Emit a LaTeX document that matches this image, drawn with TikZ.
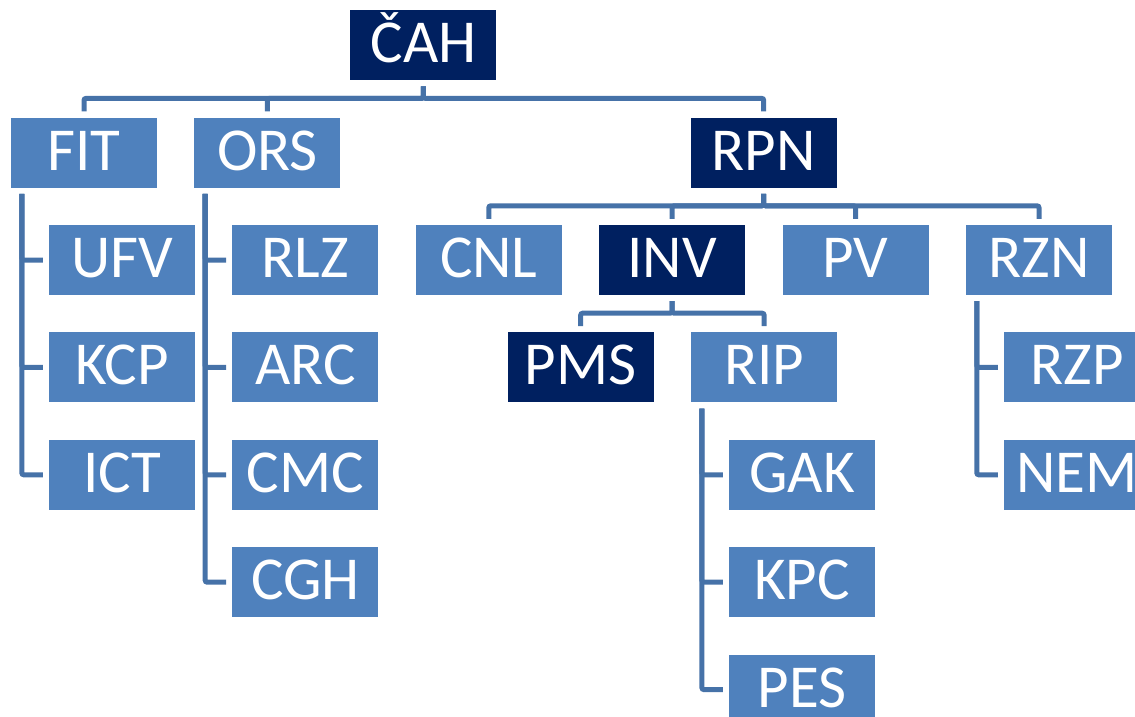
\documentclass[tikz,border=0pt]{standalone}
\usepackage{fontspec}
\setmainfont{Carlito}
\usepackage{xcolor}
\usetikzlibrary{positioning}

\definecolor{boxblue}{HTML}{4F81BD}
\definecolor{boxnavy}{HTML}{002060}
\definecolor{lineblue}{HTML}{4672A8}

\begin{document}
\begin{tikzpicture}[
    x=1pt, y=1pt,
    node distance=37pt and 37pt,
    box/.style={rectangle, fill=boxblue, text=white, minimum width=146pt, minimum height=70pt, inner sep=0pt, text height=35pt, text depth=0pt, font=\fontsize{61}{64}\selectfont},
    darkbox/.style={box, fill=boxnavy},
    link/.style={draw=lineblue, line width=5pt, rounded corners=2pt, shorten <=6pt, shorten >=6pt}
]
    \useasboundingbox (0,0) rectangle (1135,-717);

    % Second row of units
    \node[box] (ufv) at (122,-260) {UFV};
    \node[box, right=of ufv] (rlz) {RLZ};
    \node[box, right=of rlz] (cnl) {CNL};
    \node[darkbox, right=of cnl] (inv) {INV};
    \node[box, right=of inv] (pv) {PV};
    \node[box, right=of pv] (rzn) {RZN};

    % Faculty level
    \node[box, above=of ufv, xshift=-38pt] (fit) {FIT};
    \node[box, above=of rlz, xshift=-38pt] (ors) {ORS};
    \node[darkbox, above=of inv, xshift=91.5pt] (rpn) {RPN};

    % Top
    \node[darkbox, above=of ors, xshift=156pt] (cah) {ČAH};

    % FIT branch
    \node[box, below=of ufv] (kcp) {KCP};
    \node[box, below=of kcp] (ict) {ICT};

    % ORS branch
    \node[box, below=of rlz] (arc) {ARC};
    \node[box, below=of arc] (cmc) {CMC};
    \node[box, below=of cmc] (cgh) {CGH};

    % INV branch
    \node[darkbox, below=of inv, xshift=-91.5pt] (pms) {PMS};
    \node[box, right=of pms] (rip) {RIP};
    \node[box, below=of rip, xshift=38pt] (gak) {GAK};
    \node[box, below=of gak] (kpc) {KPC};
    \node[box, below=of kpc] (pes) {PES};

    % RZN branch
    \node[box, below=of rzn, xshift=38pt] (rzp) {RZP};
    \node[box, below=of rzp] (nem) {NEM};

    % Tree connectors
    \draw[link] (cah.south) -- ++(0,-18) -| (fit.north);
    \draw[link] (cah.south) -- ++(0,-18) -| (ors.north);
    \draw[link] (cah.south) -- ++(0,-18) -| (rpn.north);

    \draw[link] (rpn.south) -- ++(0,-18) -| (cnl.north);
    \draw[link] (rpn.south) -- ++(0,-18) -| (inv.north);
    \draw[link] (rpn.south) -- ++(0,-18) -| (pv.north);
    \draw[link] (rpn.south) -- ++(0,-18) -| (rzn.north);

    \draw[link] (inv.south) -- ++(0,-18) -| (pms.north);
    \draw[link] (inv.south) -- ++(0,-18) -| (rip.north);

    % Side branches
    \draw[link] ([xshift=11pt]fit.south west) |- (ufv.west);
    \draw[link] ([xshift=11pt]fit.south west) |- (kcp.west);
    \draw[link] ([xshift=11pt]fit.south west) |- (ict.west);

    \draw[link] ([xshift=11pt]ors.south west) |- (rlz.west);
    \draw[link] ([xshift=11pt]ors.south west) |- (arc.west);
    \draw[link] ([xshift=11pt]ors.south west) |- (cmc.west);
    \draw[link] ([xshift=11pt]ors.south west) |- (cgh.west);

    \draw[link] ([xshift=11pt]rip.south west) |- (gak.west);
    \draw[link] ([xshift=11pt]rip.south west) |- (kpc.west);
    \draw[link] ([xshift=11pt]rip.south west) |- (pes.west);

    \draw[link] ([xshift=11pt]rzn.south west) |- (rzp.west);
    \draw[link] ([xshift=11pt]rzn.south west) |- (nem.west);
\end{tikzpicture}
\end{document}
